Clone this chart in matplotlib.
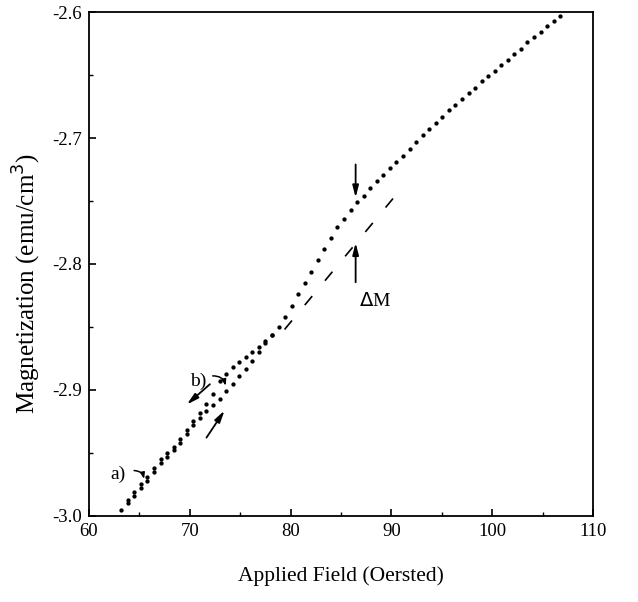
import numpy as np
import matplotlib.pyplot as plt

plt.rcParams['font.family'] = ['Liberation Serif', 'DejaVu Serif']

# branch a): field increasing (full sweep)
field_a = [63.2, 63.85, 64.5, 65.15, 65.8, 66.45, 67.1, 67.75, 68.4, 69.05,
           69.7, 70.35, 71.0, 71.65, 72.3, 72.95, 73.6, 74.25, 74.9, 75.55,
           76.2, 76.85, 77.5, 78.15, 78.8, 79.45, 80.1, 80.75, 81.4, 82.05,
           82.7, 83.35, 84.0, 84.65, 85.3, 85.95, 86.6, 87.25, 87.9, 88.55,
           89.2, 89.85, 90.5, 91.15, 91.8, 92.45, 93.1, 93.75, 94.4, 95.05,
           95.7, 96.35, 97.0, 97.65, 98.3, 98.95, 99.6, 100.25, 100.9, 101.55,
           102.2, 102.85, 103.5, 104.15, 104.8, 105.45, 106.1, 106.75]
mag_a = [-2.995, -2.990, -2.984, -2.978, -2.972, -2.965, -2.958, -2.953, -2.948, -2.942,
         -2.935, -2.928, -2.922, -2.917, -2.912, -2.907, -2.901, -2.895, -2.889, -2.883,
         -2.877, -2.870, -2.863, -2.856, -2.850, -2.842, -2.833, -2.824, -2.815, -2.806,
         -2.797, -2.788, -2.779, -2.771, -2.764, -2.757, -2.751, -2.746, -2.740, -2.734,
         -2.729, -2.724, -2.719, -2.714, -2.709, -2.703, -2.698, -2.693, -2.688, -2.683,
         -2.678, -2.674, -2.669, -2.664, -2.660, -2.655, -2.651, -2.647, -2.642, -2.638,
         -2.633, -2.629, -2.624, -2.620, -2.616, -2.611, -2.607, -2.603]

# branch b): field decreasing
field_b = [63.85, 64.5, 65.15, 65.8, 66.45, 67.1, 67.75, 68.4, 69.05, 69.7,
           70.35, 71.0, 71.65, 72.3, 72.95, 73.6, 74.25, 74.9, 75.55, 76.2,
           76.85, 77.5, 78.15]
mag_b = [-2.987, -2.981, -2.975, -2.969, -2.962, -2.955, -2.950, -2.945, -2.939, -2.932,
         -2.925, -2.918, -2.911, -2.903, -2.893, -2.887, -2.882, -2.878, -2.874, -2.870,
         -2.866, -2.861, -2.856]

# dashed reference line
field_dash = [79.4, 91.3]
mag_dash = [-2.852, -2.737]

fig = plt.figure(figsize=(6.38, 6.02), dpi=100)
ax = fig.add_axes([0.1395, 0.143, 0.79, 0.837])

ax.plot(field_a, mag_a, 'o', color='black', markersize=3.1, markeredgewidth=0)
ax.plot(field_b, mag_b, 'o', color='black', markersize=3.1, markeredgewidth=0)
ax.plot(field_dash, mag_dash, color='black', lw=1.2, dashes=(7, 12))

arrow_kw = dict(arrowstyle='-|>,head_width=0.18,head_length=0.7', color='black', lw=1.3)

# delta M arrows
ax.annotate('', xy=(86.45, -2.7495), xytext=(86.45, -2.7188), arrowprops=arrow_kw)
ax.annotate('', xy=(86.45, -2.781), xytext=(86.45, -2.8167), arrowprops=arrow_kw)
ax.text(88.4, -2.829, r'$\Delta$M', fontsize=14, ha='center', va='center')

# sweep direction arrows
ax.annotate('', xy=(69.5, -2.913), xytext=(72.2, -2.894), arrowprops=arrow_kw)
ax.annotate('', xy=(73.6, -2.9145), xytext=(71.5, -2.9397), arrowprops=arrow_kw)

# branch labels with curly pointers
ax.text(70.8, -2.893, 'b)', fontsize=14, ha='center', va='center')
ax.annotate('', xy=(73.6, -2.899), xytext=(72.0, -2.889),
            arrowprops=dict(arrowstyle='-|>,head_width=0.12,head_length=0.35', color='black',
                            lw=1.1, connectionstyle='arc3,rad=-0.5'))
ax.text(62.9, -2.967, 'a)', fontsize=14, ha='center', va='center')
ax.annotate('', xy=(65.5, -2.973), xytext=(64.2, -2.964),
            arrowprops=dict(arrowstyle='-|>,head_width=0.12,head_length=0.35', color='black',
                            lw=1.1, connectionstyle='arc3,rad=-0.5'))

ax.set_xlim(60, 110)
ax.set_ylim(-3.0, -2.6)
ax.set_xticks([60, 70, 80, 90, 100, 110])
ax.set_xticks([65, 75, 85, 95, 105], minor=True)
ax.set_yticks([-3.0, -2.9, -2.8, -2.7, -2.6])
ax.set_yticks([-2.95, -2.85, -2.75, -2.65], minor=True)
ax.set_yticklabels(['-3.0', '-2.9', '-2.8', '-2.7', '-2.6'])
ax.tick_params(direction='in', length=5, width=1.2, labelsize=13.5, pad=5)
ax.tick_params(which='minor', direction='in', length=3, width=1)
for s in ax.spines.values():
    s.set_linewidth(1.3)

ax.set_xlabel('Applied Field (Oersted)', fontsize=15.5)
ax.xaxis.set_label_coords(0.5, -0.1)
ax.set_ylabel('Magnetization (emu/cm$^3$)', fontsize=18)
ax.yaxis.set_label_coords(-0.092, 0.462)

fig.savefig('out.png', dpi=100)
